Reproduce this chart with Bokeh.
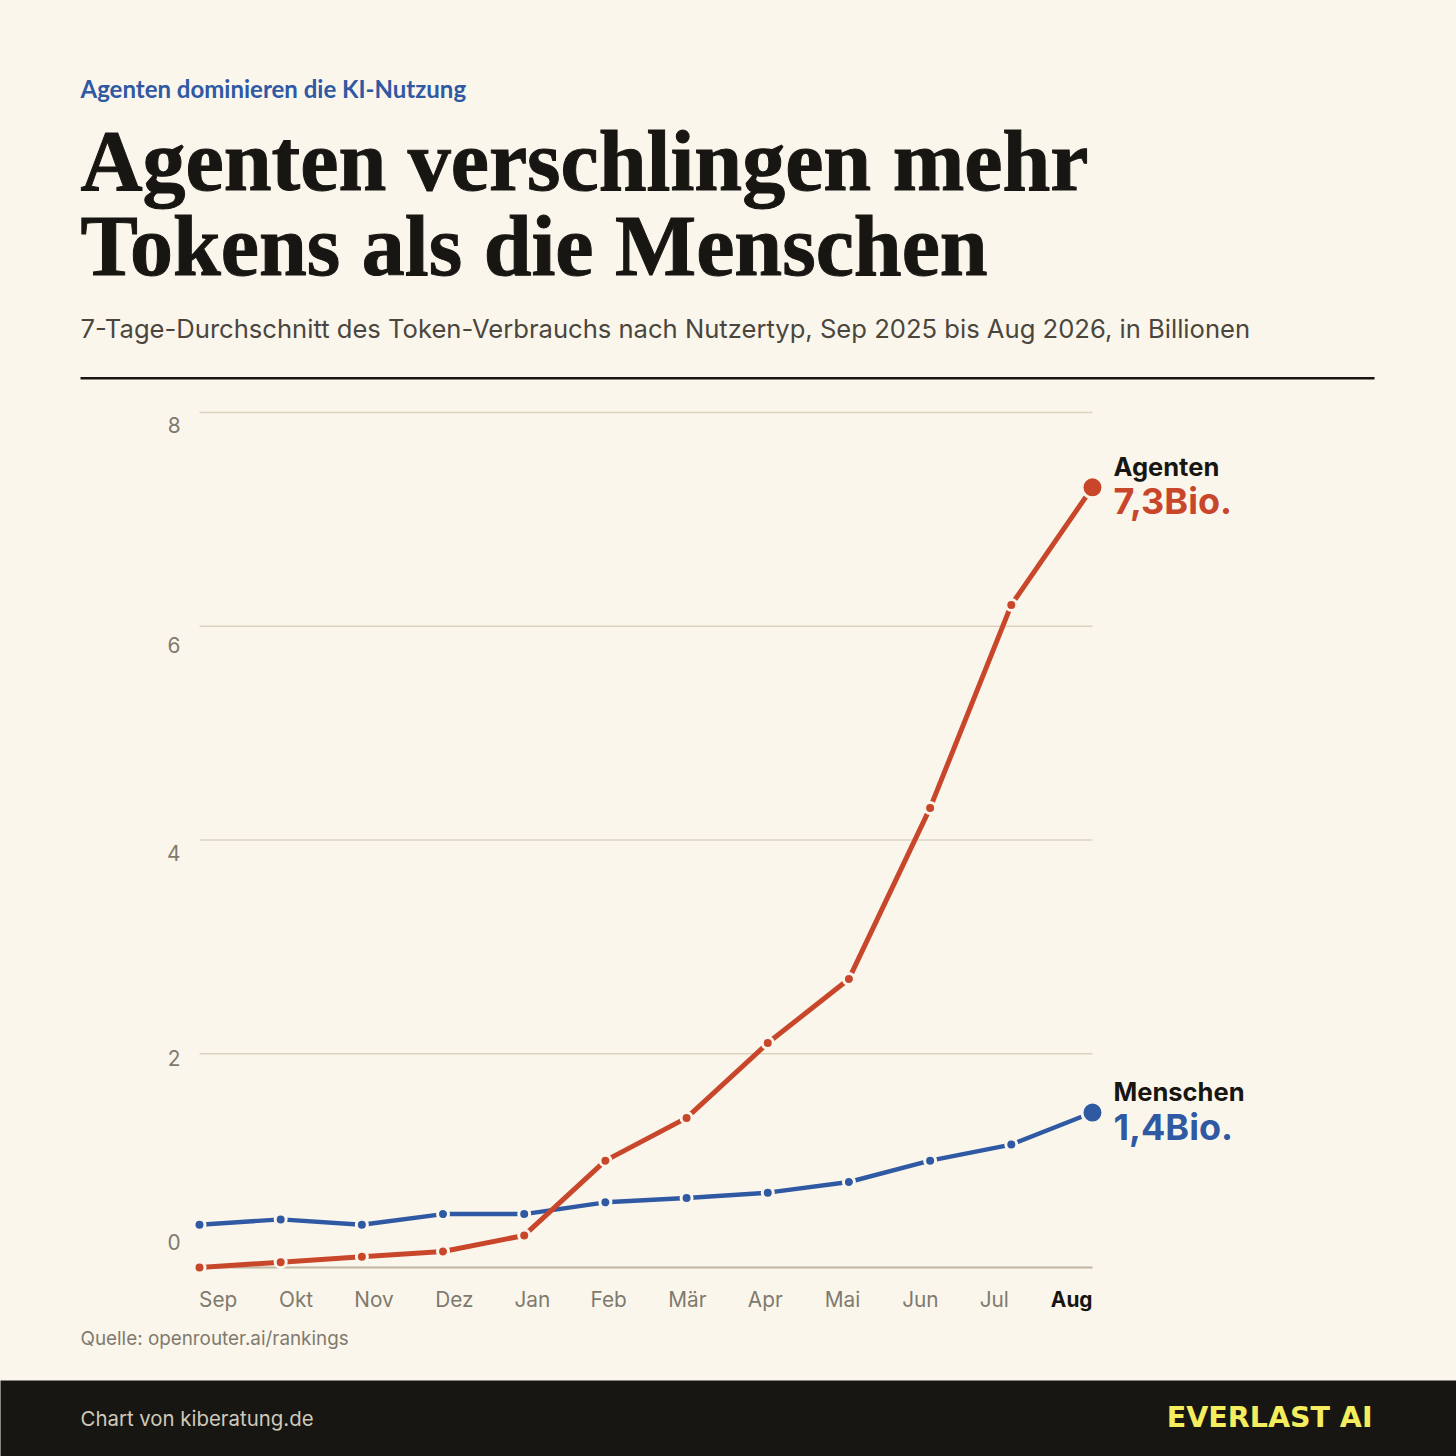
from bokeh.embed import file_html
from bokeh.resources import INLINE
from bokeh.plotting import figure
from bokeh.models import (Range1d, FixedTicker, Label, BoxAnnotation, LinearAxis, GlobalInlineStyleSheet)

months = ["Sep","Okt","Nov","Dez","Jan","Feb","Mär","Apr","Mai","Jun","Jul","Aug"]
agenten = [0.0,0.05,0.10,0.15,0.30,1.0,1.40,2.10,2.70,4.30,6.20,7.30]
menschen = [0.40,0.45,0.40,0.50,0.50,0.61,0.65,0.70,0.80,1.0,1.15,1.45]
grid_values = [2,4,6,8]
y_tick_labels = ["0","2","4","6","8"]
# where the source chart prints its tick labels, on its own value scale
y_label_positions = [0.24,1.96,3.88,5.82,7.88]
x_label_positions = [0.23,1.19,2.15,3.14,4.10,5.04,6.01,6.97,7.92,8.88,9.79]

PAPER="#fbf6ec"; INK="#181612"; RED="#c8472b"; BLUE="#2f59a3"; GRID="#d9d3c0"; BASE="#bfb5a2"; MUTED="#7f7a6e"

CANVAS=1456
BASELINE_SHIFT=0.36   # Bokeh draws alphabetic labels this many font sizes low
def X(px): return px-1
def Y(py): return CANVAS+1-py

idx=list(range(len(months)))
XU=81.18; YU=106.875
p=figure(width=CANVAS,height=CANVAS,output_backend="svg",toolbar_location=None,
         x_range=Range1d(-199/XU,(CANVAS-199)/XU),y_range=Range1d(-(CANVAS-1267)/YU,1267/YU),
         x_axis_location=None,y_axis_location=None,
         min_border=0,
         background_fill_color=PAPER,border_fill_color=PAPER,outline_line_color=None)
p.stylesheets=[GlobalInlineStyleSheet(css=f"html,body{{background:{PAPER};}}")]
p.grid.visible=False

def style(ax,ticks,labels,standoff):
    ax.ticker=FixedTicker(ticks=ticks)
    ax.major_label_overrides=dict(zip(ticks,labels))
    ax.major_label_text_font="Inter"; ax.major_label_text_font_size="20.8px"; ax.major_label_text_color=MUTED
    ax.major_tick_line_color=None; ax.minor_tick_line_color=None; ax.axis_line_color=None
    ax.major_label_standoff=standoff
    return ax

p.add_layout(style(LinearAxis(fixed_location=-13/XU),y_label_positions,y_tick_labels,0),"left")
p.add_layout(style(LinearAxis(fixed_location=-13/YU),x_label_positions,months[:-1],0),"below")

p.segment(x0=idx[0],x1=idx[-1],y0=grid_values,y1=grid_values,line_color=GRID,line_width=1.6)
p.segment(x0=idx[0],x1=idx[-1],y0=0,y1=0,line_color=BASE,line_width=2.2)

for vals,col,lw in ((menschen,BLUE,4.4),(agenten,RED,5)):
    p.line(idx,vals,line_color=col,line_width=lw,line_join="round")
    p.scatter(idx[:-1],vals[:-1],size=11,fill_color=col,line_color=PAPER,line_width=3)
    p.scatter(idx[-1:],vals[-1:],size=21,fill_color=col,line_color=PAPER,line_width=3)

def T(text,px,py,size,color,font="Inter",style="normal",align="left",outline=None):
    p.add_layout(Label(x=X(px),y=Y(py)+BASELINE_SHIFT*size,x_units="screen",y_units="screen",text=text,
        text_font=font,text_font_size=f"{size}px",text_color=color,text_font_style=style,
        text_outline_color=outline,
        text_align=align,text_baseline="alphabetic"))

def S(text,i,val,dx,dy,size,color,style="bold",align="left"):
    p.add_layout(Label(x=i,y=val,x_offset=dx,y_offset=dy+BASELINE_SHIFT*size,text=text,text_font="Inter",
        text_font_size=f"{size}px",text_color=color,text_font_style=style,
        text_align=align,text_baseline="alphabetic"))

p.add_layout(BoxAnnotation(left=X(-10),right=X(1466),top=Y(1381),bottom=Y(1466),
    left_units="screen",right_units="screen",top_units="screen",bottom_units="screen",
    fill_color=INK,fill_alpha=1,line_color=None))
p.add_layout(BoxAnnotation(left=X(81),right=X(1375),top=Y(377.5),bottom=Y(380),
    left_units="screen",right_units="screen",top_units="screen",bottom_units="screen",
    fill_color=INK,fill_alpha=1,line_color=None))

T("Agenten dominieren die KI-Nutzung",81,98,24,BLUE,font="Lato",style="bold")
T("Agenten verschlingen mehr",81,192,86,INK,font="Liberation Serif",style="bold",outline=INK)
T("Tokens als die Menschen",81,277,86,INK,font="Liberation Serif",style="bold",outline=INK)
T("7-Tage-Durchschnitt des Token-Verbrauchs nach Nutzertyp, Sep 2025 bis Aug 2026, in Billionen",81,338,25.6,"#4a463e")
T("Quelle: openrouter.ai/rankings",81,1346,18.85,MUTED)
T("Chart von kiberatung.de",81,1426,20.4,"#cfc9bb")
T("EVERLAST AI",1373,1428,28.5,"#f4ee5e",font="DejaVu Sans",style="bold",align="right")

S("Agenten",idx[-1],agenten[-1],21,12,25.5,INK)
S("7,3Bio.",idx[-1],agenten[-1],21,-27,36,RED)
S("Menschen",idx[-1],menschen[-1],21,12,25.5,INK)
S("1,4Bio.",idx[-1],menschen[-1],21,-27,36,BLUE)
S(months[-1],idx[-1],0,0,-39,20.8,INK,align="right")

open("out.html","w").write(file_html(p,INLINE))
